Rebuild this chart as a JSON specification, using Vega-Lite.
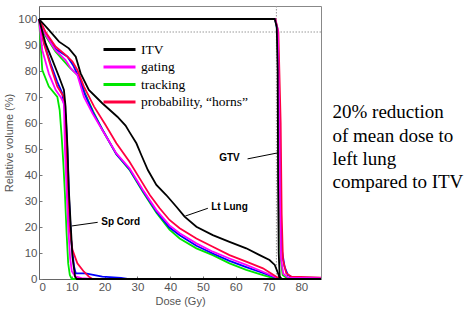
{
  "$schema": "https://vega.github.io/schema/vega-lite/v6.json",
  "width": 282,
  "height": 273,
  "autosize": "none",
  "padding": {"left": 39, "top": 6, "right": 148, "bottom": 33},
  "background": "white",
  "config": {
    "view": {"stroke": "#888", "strokeWidth": 1},
    "axis": {
      "labelFont": "Liberation Sans Narrow, Liberation Sans",
      "labelFontSize": 11.5,
      "labelColor": "#555",
      "labelOverlap": false,
      "titleFont": "Liberation Sans Narrow, Liberation Sans",
      "titleFontSize": 11,
      "titleFontWeight": "normal",
      "titleColor": "#555",
      "domainColor": "#666",
      "tickColor": "#777",
      "tickSize": -3,
      "labelPadding": 5,
      "titlePadding": 3,
      "grid": false
    }
  },
  "layer": [
    {
      "data": {"values": [{"dose": 72.4}]},
      "mark": {"type": "rule", "color": "#999", "strokeDash": [1.5, 1.5], "strokeWidth": 1},
      "encoding": {
        "x": {"field": "dose", "type": "quantitative", "scale": {"domain": [0, 86], "nice": false},
          "axis": {"title": "Dose (Gy)", "values": [0,10,20,30,40,50,60,70,80]}}
      }
    },
    {
      "data": {"values": [{"volume": 95}]},
      "mark": {"type": "rule", "color": "#999", "strokeDash": [1.5, 1.5], "strokeWidth": 1},
      "encoding": {
        "y": {"field": "volume", "type": "quantitative", "scale": {"domain": [0, 105], "nice": false},
          "axis": {"title": "Relative volume (%)", "values": [0,10,20,30,40,50,60,70,80,90,100]}}
      }
    },
    {
      "data": {"values": [
        {"organ":"GTV","plan":"other","dose":0,"volume":100},{"organ":"GTV","plan":"other","dose":72,"volume":100},{"organ":"GTV","plan":"other","dose":72.8,"volume":95},{"organ":"GTV","plan":"other","dose":73.4,"volume":60},{"organ":"GTV","plan":"other","dose":73.9,"volume":12.4},{"organ":"GTV","plan":"other","dose":74.9,"volume":4.7},{"organ":"GTV","plan":"other","dose":75.9,"volume":1.5},{"organ":"GTV","plan":"other","dose":77.4,"volume":0.6},{"organ":"GTV","plan":"other","dose":86,"volume":0.4},
        {"organ":"GTV","plan":"tracking","dose":0,"volume":100},{"organ":"GTV","plan":"tracking","dose":72,"volume":100},{"organ":"GTV","plan":"tracking","dose":72.7,"volume":96},{"organ":"GTV","plan":"tracking","dose":73.1,"volume":70},{"organ":"GTV","plan":"tracking","dose":73.4,"volume":30},{"organ":"GTV","plan":"tracking","dose":73.7,"volume":8},{"organ":"GTV","plan":"tracking","dose":74.3,"volume":1.5},{"organ":"GTV","plan":"tracking","dose":75.5,"volume":0.4},{"organ":"GTV","plan":"tracking","dose":86,"volume":0.2},
        {"organ":"GTV","plan":"probability, “horns”","dose":0,"volume":100},{"organ":"GTV","plan":"probability, “horns”","dose":72.1,"volume":100},{"organ":"GTV","plan":"probability, “horns”","dose":73,"volume":95},{"organ":"GTV","plan":"probability, “horns”","dose":73.7,"volume":60},{"organ":"GTV","plan":"probability, “horns”","dose":74,"volume":25},{"organ":"GTV","plan":"probability, “horns”","dose":74.4,"volume":7.3},{"organ":"GTV","plan":"probability, “horns”","dose":75.4,"volume":2.2},{"organ":"GTV","plan":"probability, “horns”","dose":77,"volume":0.9},{"organ":"GTV","plan":"probability, “horns”","dose":86,"volume":0.5},
        {"organ":"GTV","plan":"gating","dose":0,"volume":100},{"organ":"GTV","plan":"gating","dose":72,"volume":100},{"organ":"GTV","plan":"gating","dose":72.8,"volume":96},{"organ":"GTV","plan":"gating","dose":73.2,"volume":70},{"organ":"GTV","plan":"gating","dose":73.5,"volume":30},{"organ":"GTV","plan":"gating","dose":73.8,"volume":8},{"organ":"GTV","plan":"gating","dose":74.5,"volume":2},{"organ":"GTV","plan":"gating","dose":76,"volume":0.5},{"organ":"GTV","plan":"gating","dose":86,"volume":0.3},

        {"organ":"Cord","plan":"other","dose":0,"volume":100},{"organ":"Cord","plan":"other","dose":1.5,"volume":91},{"organ":"Cord","plan":"other","dose":3.5,"volume":83},{"organ":"Cord","plan":"other","dose":5.5,"volume":76},{"organ":"Cord","plan":"other","dose":7.1,"volume":71.4},{"organ":"Cord","plan":"other","dose":8.2,"volume":62},{"organ":"Cord","plan":"other","dose":8.7,"volume":48},{"organ":"Cord","plan":"other","dose":9.2,"volume":30},{"organ":"Cord","plan":"other","dose":9.8,"volume":15},{"organ":"Cord","plan":"other","dose":10.7,"volume":4.7},{"organ":"Cord","plan":"other","dose":11.2,"volume":2.2},{"organ":"Cord","plan":"other","dose":14.2,"volume":2.2},{"organ":"Cord","plan":"other","dose":19.3,"volume":0.9},{"organ":"Cord","plan":"other","dose":25,"volume":0.4},{"organ":"Cord","plan":"other","dose":27,"volume":0},{"organ":"Cord","plan":"other","dose":86,"volume":0},
        {"organ":"Cord","plan":"tracking","dose":0,"volume":100},{"organ":"Cord","plan":"tracking","dose":0.5,"volume":90.6},{"organ":"Cord","plan":"tracking","dose":1,"volume":80.4},{"organ":"Cord","plan":"tracking","dose":3,"volume":74},{"organ":"Cord","plan":"tracking","dose":5.6,"volume":70},{"organ":"Cord","plan":"tracking","dose":6.3,"volume":65},{"organ":"Cord","plan":"tracking","dose":6.9,"volume":55},{"organ":"Cord","plan":"tracking","dose":7.4,"volume":45},{"organ":"Cord","plan":"tracking","dose":7.9,"volume":33},{"organ":"Cord","plan":"tracking","dose":8.4,"volume":18},{"organ":"Cord","plan":"tracking","dose":8.9,"volume":6},{"organ":"Cord","plan":"tracking","dose":9.4,"volume":1.5},{"organ":"Cord","plan":"tracking","dose":10,"volume":0},{"organ":"Cord","plan":"tracking","dose":86,"volume":0},
        {"organ":"Cord","plan":"probability, “horns”","dose":0,"volume":100},{"organ":"Cord","plan":"probability, “horns”","dose":1.5,"volume":90.6},{"organ":"Cord","plan":"probability, “horns”","dose":3.6,"volume":81.7},{"organ":"Cord","plan":"probability, “horns”","dose":5.6,"volume":74},{"organ":"Cord","plan":"probability, “horns”","dose":7.6,"volume":70},{"organ":"Cord","plan":"probability, “horns”","dose":8.1,"volume":61},{"organ":"Cord","plan":"probability, “horns”","dose":8.4,"volume":45},{"organ":"Cord","plan":"probability, “horns”","dose":9.1,"volume":21.4},{"organ":"Cord","plan":"probability, “horns”","dose":10.2,"volume":11.2},{"organ":"Cord","plan":"probability, “horns”","dose":11.7,"volume":6},{"organ":"Cord","plan":"probability, “horns”","dose":13.7,"volume":2.8},{"organ":"Cord","plan":"probability, “horns”","dose":15.2,"volume":0.9},{"organ":"Cord","plan":"probability, “horns”","dose":16.3,"volume":0},{"organ":"Cord","plan":"probability, “horns”","dose":86,"volume":0},
        {"organ":"Cord","plan":"gating","dose":0,"volume":100},{"organ":"Cord","plan":"gating","dose":1,"volume":88},{"organ":"Cord","plan":"gating","dose":3,"volume":79},{"organ":"Cord","plan":"gating","dose":5.1,"volume":72.7},{"organ":"Cord","plan":"gating","dose":6.6,"volume":70},{"organ":"Cord","plan":"gating","dose":7.6,"volume":67.6},{"organ":"Cord","plan":"gating","dose":7.9,"volume":50},{"organ":"Cord","plan":"gating","dose":8.4,"volume":35},{"organ":"Cord","plan":"gating","dose":8.9,"volume":20},{"organ":"Cord","plan":"gating","dose":9.5,"volume":8},{"organ":"Cord","plan":"gating","dose":10,"volume":3},{"organ":"Cord","plan":"gating","dose":11,"volume":1},{"organ":"Cord","plan":"gating","dose":13,"volume":0.3},{"organ":"Cord","plan":"gating","dose":16,"volume":0},{"organ":"Cord","plan":"gating","dose":86,"volume":0},

        {"organ":"Lung","plan":"tracking","dose":0,"volume":100},{"organ":"Lung","plan":"tracking","dose":2,"volume":93.5},{"organ":"Lung","plan":"tracking","dose":5,"volume":87.5},{"organ":"Lung","plan":"tracking","dose":9.1,"volume":81.7},{"organ":"Lung","plan":"tracking","dose":12.2,"volume":77.8},{"organ":"Lung","plan":"tracking","dose":14,"volume":71.5},{"organ":"Lung","plan":"tracking","dose":16.5,"volume":64.5},{"organ":"Lung","plan":"tracking","dose":19.3,"volume":57.5},{"organ":"Lung","plan":"tracking","dose":23.6,"volume":48},{"organ":"Lung","plan":"tracking","dose":27.6,"volume":42},{"organ":"Lung","plan":"tracking","dose":31.7,"volume":33.5},{"organ":"Lung","plan":"tracking","dose":35.8,"volume":25.5},{"organ":"Lung","plan":"tracking","dose":39.8,"volume":19},{"organ":"Lung","plan":"tracking","dose":42.9,"volume":15.6},{"organ":"Lung","plan":"tracking","dose":48,"volume":11.8},{"organ":"Lung","plan":"tracking","dose":53,"volume":9.2},{"organ":"Lung","plan":"tracking","dose":58.1,"volume":6},{"organ":"Lung","plan":"tracking","dose":63.2,"volume":3.5},{"organ":"Lung","plan":"tracking","dose":68.3,"volume":1.5},{"organ":"Lung","plan":"tracking","dose":71.5,"volume":0.3},{"organ":"Lung","plan":"tracking","dose":73,"volume":0},{"organ":"Lung","plan":"tracking","dose":86,"volume":0},
        {"organ":"Lung","plan":"other","dose":0,"volume":100},{"organ":"Lung","plan":"other","dose":2,"volume":94.5},{"organ":"Lung","plan":"other","dose":5,"volume":88.5},{"organ":"Lung","plan":"other","dose":8.7,"volume":85.5},{"organ":"Lung","plan":"other","dose":10.5,"volume":82},{"organ":"Lung","plan":"other","dose":12,"volume":78},{"organ":"Lung","plan":"other","dose":14,"volume":71},{"organ":"Lung","plan":"other","dose":16.5,"volume":64},{"organ":"Lung","plan":"other","dose":19.3,"volume":57.5},{"organ":"Lung","plan":"other","dose":23.6,"volume":48},{"organ":"Lung","plan":"other","dose":27.6,"volume":42.2},{"organ":"Lung","plan":"other","dose":31.7,"volume":33.8},{"organ":"Lung","plan":"other","dose":35.8,"volume":26},{"organ":"Lung","plan":"other","dose":39.8,"volume":19.8},{"organ":"Lung","plan":"other","dose":42.9,"volume":16.8},{"organ":"Lung","plan":"other","dose":48,"volume":12.8},{"organ":"Lung","plan":"other","dose":53,"volume":9.8},{"organ":"Lung","plan":"other","dose":58.1,"volume":7},{"organ":"Lung","plan":"other","dose":63.2,"volume":4.6},{"organ":"Lung","plan":"other","dose":68.3,"volume":2.3},{"organ":"Lung","plan":"other","dose":72,"volume":0.6},{"organ":"Lung","plan":"other","dose":73.5,"volume":0},{"organ":"Lung","plan":"other","dose":86,"volume":0},
        {"organ":"Lung","plan":"gating","dose":0,"volume":100},{"organ":"Lung","plan":"gating","dose":2,"volume":94},{"organ":"Lung","plan":"gating","dose":5,"volume":88},{"organ":"Lung","plan":"gating","dose":8.1,"volume":84.2},{"organ":"Lung","plan":"gating","dose":9.7,"volume":81},{"organ":"Lung","plan":"gating","dose":11.7,"volume":78.5},{"organ":"Lung","plan":"gating","dose":13.7,"volume":70},{"organ":"Lung","plan":"gating","dose":16.3,"volume":63.7},{"organ":"Lung","plan":"gating","dose":19.3,"volume":57.3},{"organ":"Lung","plan":"gating","dose":23.6,"volume":48.3},{"organ":"Lung","plan":"gating","dose":27.6,"volume":42.6},{"organ":"Lung","plan":"gating","dose":31.7,"volume":34.2},{"organ":"Lung","plan":"gating","dose":35.8,"volume":26.5},{"organ":"Lung","plan":"gating","dose":39.8,"volume":20.6},{"organ":"Lung","plan":"gating","dose":42.9,"volume":17.6},{"organ":"Lung","plan":"gating","dose":48,"volume":13.7},{"organ":"Lung","plan":"gating","dose":53,"volume":10.5},{"organ":"Lung","plan":"gating","dose":58.1,"volume":7.9},{"organ":"Lung","plan":"gating","dose":63.2,"volume":5.4},{"organ":"Lung","plan":"gating","dose":68.3,"volume":2.8},{"organ":"Lung","plan":"gating","dose":72,"volume":0.8},{"organ":"Lung","plan":"gating","dose":73.5,"volume":0},{"organ":"Lung","plan":"gating","dose":86,"volume":0},
        {"organ":"Lung","plan":"probability, “horns”","dose":0,"volume":100},{"organ":"Lung","plan":"probability, “horns”","dose":2,"volume":95},{"organ":"Lung","plan":"probability, “horns”","dose":5.1,"volume":89.3},{"organ":"Lung","plan":"probability, “horns”","dose":8.1,"volume":86.2},{"organ":"Lung","plan":"probability, “horns”","dose":10.2,"volume":83.6},{"organ":"Lung","plan":"probability, “horns”","dose":11.7,"volume":80.4},{"organ":"Lung","plan":"probability, “horns”","dose":13.7,"volume":74},{"organ":"Lung","plan":"probability, “horns”","dose":16.8,"volume":66.3},{"organ":"Lung","plan":"probability, “horns”","dose":20.3,"volume":59.2},{"organ":"Lung","plan":"probability, “horns”","dose":23.6,"volume":52.2},{"organ":"Lung","plan":"probability, “horns”","dose":27.6,"volume":45.1},{"organ":"Lung","plan":"probability, “horns”","dose":30.7,"volume":38.7},{"organ":"Lung","plan":"probability, “horns”","dose":33.8,"volume":32.3},{"organ":"Lung","plan":"probability, “horns”","dose":36.8,"volume":27.2},{"organ":"Lung","plan":"probability, “horns”","dose":39.8,"volume":22.7},{"organ":"Lung","plan":"probability, “horns”","dose":42.9,"volume":19.5},{"organ":"Lung","plan":"probability, “horns”","dose":48,"volume":15.6},{"organ":"Lung","plan":"probability, “horns”","dose":53,"volume":12.4},{"organ":"Lung","plan":"probability, “horns”","dose":58.1,"volume":9.2},{"organ":"Lung","plan":"probability, “horns”","dose":63.2,"volume":6.7},{"organ":"Lung","plan":"probability, “horns”","dose":68.3,"volume":4.1},{"organ":"Lung","plan":"probability, “horns”","dose":72.4,"volume":0.9},{"organ":"Lung","plan":"probability, “horns”","dose":73.5,"volume":0},{"organ":"Lung","plan":"probability, “horns”","dose":86,"volume":0},

        {"organ":"GTV","plan":"ITV","dose":0,"volume":100},{"organ":"GTV","plan":"ITV","dose":71.9,"volume":100},{"organ":"GTV","plan":"ITV","dose":72.5,"volume":97},{"organ":"GTV","plan":"ITV","dose":72.8,"volume":80},{"organ":"GTV","plan":"ITV","dose":72.9,"volume":40},{"organ":"GTV","plan":"ITV","dose":73.1,"volume":10},{"organ":"GTV","plan":"ITV","dose":73.4,"volume":1},{"organ":"GTV","plan":"ITV","dose":74,"volume":0},{"organ":"GTV","plan":"ITV","dose":86,"volume":0},
        {"organ":"Cord","plan":"ITV","dose":0,"volume":100},{"organ":"Cord","plan":"ITV","dose":2,"volume":90.6},{"organ":"Cord","plan":"ITV","dose":4.1,"volume":84.2},{"organ":"Cord","plan":"ITV","dose":6.1,"volume":77.8},{"organ":"Cord","plan":"ITV","dose":7.6,"volume":72.7},{"organ":"Cord","plan":"ITV","dose":8.1,"volume":66.3},{"organ":"Cord","plan":"ITV","dose":8.7,"volume":50},{"organ":"Cord","plan":"ITV","dose":9.1,"volume":34.2},{"organ":"Cord","plan":"ITV","dose":9.7,"volume":20.1},{"organ":"Cord","plan":"ITV","dose":10.2,"volume":8.6},{"organ":"Cord","plan":"ITV","dose":11,"volume":0.9},{"organ":"Cord","plan":"ITV","dose":11.5,"volume":0},{"organ":"Cord","plan":"ITV","dose":86,"volume":0},
        {"organ":"Lung","plan":"ITV","dose":0,"volume":100},{"organ":"Lung","plan":"ITV","dose":3,"volume":95.8},{"organ":"Lung","plan":"ITV","dose":6.1,"volume":91.3},{"organ":"Lung","plan":"ITV","dose":9.1,"volume":88.7},{"organ":"Lung","plan":"ITV","dose":11.2,"volume":85.5},{"organ":"Lung","plan":"ITV","dose":12.7,"volume":79.1},{"organ":"Lung","plan":"ITV","dose":15.2,"volume":72.7},{"organ":"Lung","plan":"ITV","dose":19.3,"volume":67.6},{"organ":"Lung","plan":"ITV","dose":23.9,"volume":62.4},{"organ":"Lung","plan":"ITV","dose":26.4,"volume":59},{"organ":"Lung","plan":"ITV","dose":27.6,"volume":56.5},{"organ":"Lung","plan":"ITV","dose":29.7,"volume":52.2},{"organ":"Lung","plan":"ITV","dose":31.2,"volume":47.7},{"organ":"Lung","plan":"ITV","dose":33.2,"volume":41.9},{"organ":"Lung","plan":"ITV","dose":35.8,"volume":36.2},{"organ":"Lung","plan":"ITV","dose":38.8,"volume":32.3},{"organ":"Lung","plan":"ITV","dose":41.9,"volume":27.8},{"organ":"Lung","plan":"ITV","dose":44.4,"volume":24},{"organ":"Lung","plan":"ITV","dose":48,"volume":20.1},{"organ":"Lung","plan":"ITV","dose":53,"volume":16.9},{"organ":"Lung","plan":"ITV","dose":58.1,"volume":14.3},{"organ":"Lung","plan":"ITV","dose":63.2,"volume":11.8},{"organ":"Lung","plan":"ITV","dose":67.3,"volume":9.2},{"organ":"Lung","plan":"ITV","dose":70.3,"volume":7.3},{"organ":"Lung","plan":"ITV","dose":71.9,"volume":5.4},{"organ":"Lung","plan":"ITV","dose":72.9,"volume":2.2},{"organ":"Lung","plan":"ITV","dose":73.4,"volume":0.3},{"organ":"Lung","plan":"ITV","dose":74,"volume":0},{"organ":"Lung","plan":"ITV","dose":86,"volume":0}
      ]},
      "mark": {"type": "line", "strokeWidth": 1.8, "interpolate": "linear"},
      "encoding": {
        "x": {"field": "dose", "type": "quantitative", "scale": {"domain": [0, 86], "nice": false},
          "axis": {"title": "Dose (Gy)", "values": [0,10,20,30,40,50,60,70,80]}},
        "y": {"field": "volume", "type": "quantitative", "scale": {"domain": [0, 105], "nice": false},
          "axis": {"title": "Relative volume (%)", "values": [0,10,20,30,40,50,60,70,80,90,100]}},
        "color": {"field": "plan", "type": "nominal",
          "scale": {"domain": ["ITV", "gating", "tracking", "probability, “horns”", "other"], "range": ["#000000", "#ff00ff", "#00e600", "#ff0040", "#0000ff"]},
          "legend": {"values": ["ITV", "gating", "tracking", "probability, “horns”"], "title": null, "orient": "none", "legendX": 71, "legendY": 34,
            "symbolType": "M-2,0H2", "symbolSize": 256, "symbolStrokeWidth": 3, "labelFont": "Liberation Serif", "labelFontSize": 13.5, "labelColor": "#000", "labelOffset": 12, "padding": 0, "rowPadding": 1.5, "labelLimit": 300}},
        "detail": {"field": "organ", "type": "nominal"}
      }
    },
    {
      "data": {"values": [
        {"dose": 17.9, "volume": 21.8, "dose2": 10.0, "volume2": 20.4},
        {"dose": 63.6, "volume": 46.2, "dose2": 72.8, "volume2": 48.5},
        {"dose": 51.5, "volume": 27.2, "dose2": 44.6, "volume2": 24.2}
      ]},
      "mark": {"type": "rule", "color": "#000", "strokeWidth": 1},
      "encoding": {
        "x": {"field": "dose", "type": "quantitative", "axis": {"title": "Dose (Gy)", "values": [0,10,20,30,40,50,60,70,80]}},
        "y": {"field": "volume", "type": "quantitative", "axis": {"title": "Relative volume (%)", "values": [0,10,20,30,40,50,60,70,80,90,100]}},
        "x2": {"field": "dose2"},
        "y2": {"field": "volume2"}
      }
    },
    {
      "data": {"values": [
        {"label": "Sp Cord", "dose": 24.9, "volume": 21.8},
        {"label": "GTV", "dose": 58.1, "volume": 46.5},
        {"label": "Lt Lung", "dose": 58.1, "volume": 27.6}
      ]},
      "mark": {"type": "text", "font": "Liberation Sans Narrow, Liberation Sans", "fontWeight": "bold", "fontSize": 10, "color": "#000", "align": "center", "baseline": "middle"},
      "encoding": {
        "x": {"field": "dose", "type": "quantitative", "axis": {"title": "Dose (Gy)", "values": [0,10,20,30,40,50,60,70,80]}},
        "y": {"field": "volume", "type": "quantitative", "axis": {"title": "Relative volume (%)", "values": [0,10,20,30,40,50,60,70,80,90,100]}},
        "text": {"field": "label"}
      }
    },
    {
      "data": {"values": [
        {"note": ["20% reduction", "of mean dose to", "left lung", "compared to ITV"], "dose": 89.5, "volume": 61.8}
      ]},
      "mark": {"type": "text", "font": "Liberation Serif", "fontSize": 19, "color": "#000", "align": "left", "baseline": "alphabetic", "lineHeight": 23.3},
      "encoding": {
        "x": {"field": "dose", "type": "quantitative", "axis": {"title": "Dose (Gy)", "values": [0,10,20,30,40,50,60,70,80]}},
        "y": {"field": "volume", "type": "quantitative", "axis": {"title": "Relative volume (%)", "values": [0,10,20,30,40,50,60,70,80,90,100]}},
        "text": {"field": "note"}
      }
    }
  ]
}
